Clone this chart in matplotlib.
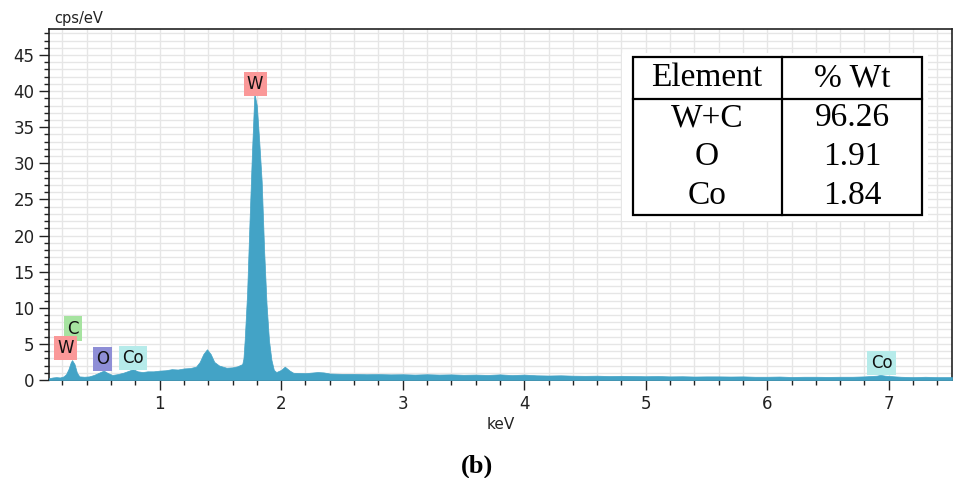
import matplotlib.pyplot as plt
from matplotlib.patches import Rectangle
from matplotlib.lines import Line2D
from matplotlib.ticker import MultipleLocator

# EDS spectrum (energy in keV, counts in cps/eV)
energy = [0.09, 0.12, 0.15, 0.18, 0.21, 0.23, 0.25, 0.27, 0.28, 0.30, 0.32, 0.34,
          0.38, 0.42, 0.46, 0.50, 0.54, 0.57, 0.61, 0.65, 0.70, 0.75, 0.78, 0.82,
          0.86, 0.90, 0.95, 1.00, 1.05, 1.10, 1.15, 1.20, 1.25, 1.30, 1.33, 1.36,
          1.39, 1.42, 1.45, 1.49, 1.55, 1.60, 1.64, 1.68, 1.69, 1.70, 1.72, 1.74,
          1.76, 1.78, 1.80, 1.82, 1.84, 1.86, 1.88, 1.90, 1.92, 1.94, 1.96, 2.00,
          2.03, 2.07, 2.10, 2.20, 2.30, 2.35, 2.40, 2.50, 2.60, 2.70, 2.80, 2.90,
          3.00, 3.10, 3.20, 3.30, 3.40, 3.50, 3.60, 3.70, 3.80, 3.90, 4.00, 4.10,
          4.20, 4.30, 4.40, 4.50, 4.60, 4.70, 4.80, 4.90, 5.00, 5.10, 5.20, 5.30,
          5.40, 5.50, 5.60, 5.70, 5.80, 5.90, 6.00, 6.10, 6.20, 6.30, 6.40, 6.50,
          6.60, 6.70, 6.80, 6.90, 6.93, 6.97, 7.05, 7.10, 7.20, 7.30, 7.40, 7.52]
counts = [0.25, 0.35, 0.40, 0.35, 0.50, 0.80, 1.50, 2.50, 2.75, 2.20, 1.00, 0.50,
          0.45, 0.50, 0.70, 1.00, 1.30, 1.00, 0.70, 0.80, 1.00, 1.30, 1.50, 1.20,
          1.10, 1.20, 1.20, 1.30, 1.35, 1.50, 1.45, 1.60, 1.65, 1.85, 2.50, 3.60,
          4.25, 3.60, 2.50, 2.00, 1.70, 1.75, 1.90, 2.20, 3.00, 5.50, 12.0, 22.0,
          31.5, 39.7, 38.0, 33.0, 27.5, 18.0, 10.5, 5.50, 2.80, 1.40, 1.10, 1.40,
          1.85, 1.30, 1.00, 0.95, 1.10, 1.05, 0.90, 0.85, 0.85, 0.80, 0.82, 0.78,
          0.80, 0.75, 0.80, 0.75, 0.78, 0.72, 0.75, 0.70, 0.78, 0.68, 0.75, 0.65,
          0.62, 0.65, 0.60, 0.58, 0.60, 0.55, 0.58, 0.55, 0.52, 0.55, 0.50, 0.52,
          0.48, 0.50, 0.50, 0.48, 0.50, 0.45, 0.45, 0.48, 0.42, 0.45, 0.45, 0.43,
          0.45, 0.45, 0.50, 0.60, 0.70, 0.60, 0.50, 0.45, 0.40, 0.45, 0.40, 0.40]

# peak labels: text, energy, height, box colour
peak_labels = ["W", "C", "W", "O", "Co", "Co"]
peak_x = [1.786, 0.288, 0.226, 0.531, 0.782, 6.94]
peak_y = [41.0, 7.13, 4.43, 2.91, 3.05, 2.35]
peak_colors = ["#fa9898", "#a6e3a0", "#fa9898", "#8e8ed6", "#b6ebea", "#b6ebea"]

# composition table
table_header = ["Element", "% Wt"]
elements = ["W+C", "O", "Co"]
weight_pct = ["96.26", "1.91", "1.84"]

W, H = 954, 478
fig = plt.figure(figsize=(W / 100, H / 100), dpi=100)
ax = fig.add_axes([49 / W, (H - 380) / H, 903 / W, 351 / H])

ax.fill_between(energy, 0, counts, color="#43a3c6", lw=0.5, zorder=3)

ax.set_xlim(0.09, 7.52)
ax.set_ylim(0, 48.6)
ax.xaxis.set_major_locator(MultipleLocator(1))
ax.xaxis.set_minor_locator(MultipleLocator(0.2))
ax.yaxis.set_major_locator(MultipleLocator(5))
ax.yaxis.set_minor_locator(MultipleLocator(1))
ax.grid(True, which="both", color="#e6e6e6", lw=1.0, zorder=0)
ax.set_axisbelow(True)

ax.tick_params(which="major", length=7, width=1, color="#222222", labelsize=12,
               labelcolor="#222222")
ax.tick_params(which="minor", length=3.6, width=1, color="#222222")
for s in ax.spines.values():
    s.set_color("#222222")
    s.set_linewidth(1.2)

ax.set_xlabel("keV", fontsize=11, color="#222222", labelpad=3)
fig.text(54 / W, 1 - 18 / H, "cps/eV", fontsize=10.5, color="#222222",
         ha="left", va="center")

for lab, x, y, c in zip(peak_labels, peak_x, peak_y, peak_colors):
    ax.text(x, y, lab, ha="center", va="center", fontsize=12, color="#111111",
            zorder=5, bbox=dict(boxstyle="square,pad=0.2", fc=c, ec="none"))

# table drawn in pixel-based figure coordinates
def fx(px):
    return px / W

def fy(py):
    return 1 - py / H

fig.patches.append(Rectangle((fx(622), fy(221)), fx(928) - fx(622), fy(53) - fy(221),
                             transform=fig.transFigure, fc="white", ec="none", zorder=4))
fig.patches.append(Rectangle((fx(633), fy(215)), fx(922) - fx(633), fy(57) - fy(215),
                             transform=fig.transFigure, fc="none", ec="black", lw=1.6,
                             zorder=5))
fig.lines.append(Line2D([fx(782), fx(782)], [fy(57), fy(215)], transform=fig.transFigure,
                        color="black", lw=1.6, zorder=5))
fig.lines.append(Line2D([fx(633), fx(922)], [fy(99), fy(99)], transform=fig.transFigure,
                        color="black", lw=1.6, zorder=5))

tfont = dict(family="Liberation Serif", fontsize=24, ha="center", va="center", zorder=6)
col_x = [fx(707), fx(852)]
fig.text(col_x[0], fy(78), table_header[0], **tfont)
fig.text(col_x[1], fy(78), table_header[1], **tfont)
row_y = [118, 157, 196]
for el, wt, ry in zip(elements, weight_pct, row_y):
    fig.text(col_x[0], fy(ry), el, **tfont)
    fig.text(col_x[1], fy(ry), wt, **tfont)

fig.text(0.5, fy(466), "(b)", family="Liberation Serif", fontweight="bold",
         fontsize=19, ha="center", va="center")

fig.savefig("out.png", dpi=100)
